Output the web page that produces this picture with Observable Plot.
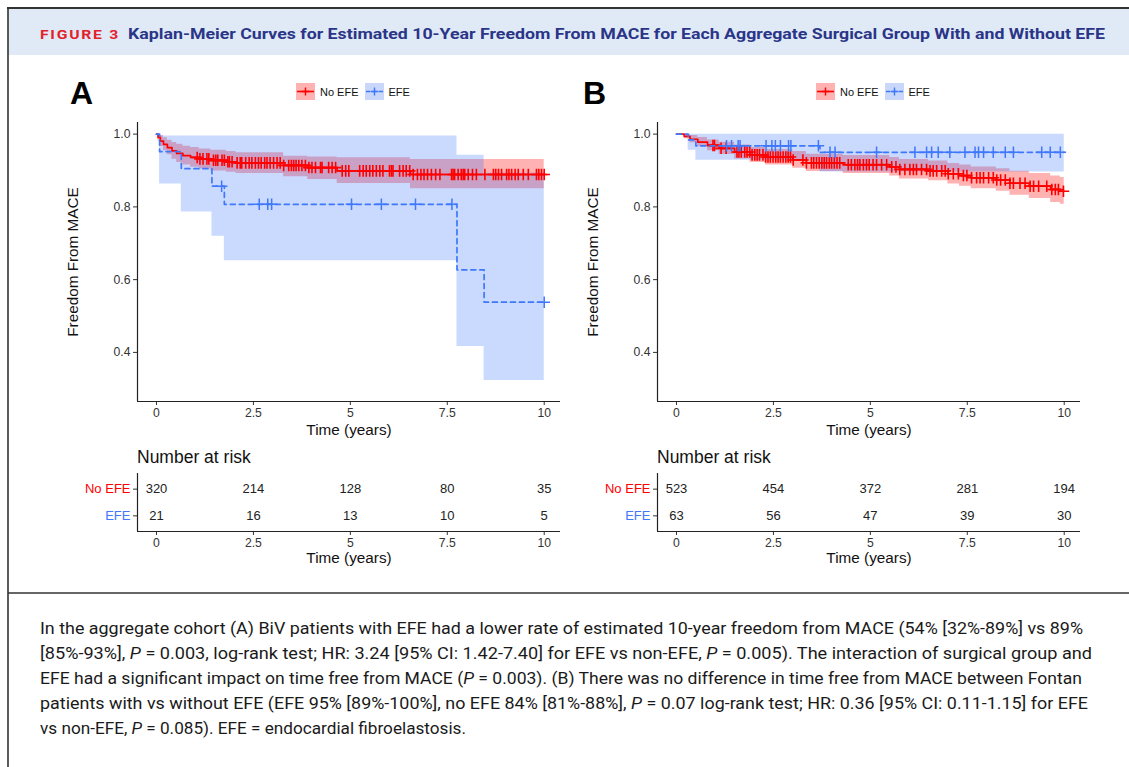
<!DOCTYPE html>
<html><head><meta charset="utf-8">
<script src="https://cdn.jsdelivr.net/npm/d3@7"></script>
<script src="https://cdn.jsdelivr.net/npm/@observablehq/plot@0.6"></script>
<style>
body{margin:0;background:#fff}
#root{position:relative;width:1129px;height:767px;overflow:hidden;font-family:"Liberation Sans",Arial,sans-serif;color:#222}
.abs{position:absolute}
</style>
</head><body><div id="root"></div>
<script>
// ---------------- DATA ----------------
const groups = ["No EFE", "EFE"];
const xTicks = [0, 2.5, 5, 7.5, 10];
const xTickLabels = ["0", "2.5", "5", "7.5", "10"];
const yTicks = [0.4, 0.6, 0.8, 1.0];

// Panel A (aggregate cohort, BiV) — No EFE
const aNoTime  = [0, 0.04, 0.1, 0.18, 0.28, 0.4, 0.52, 0.68, 0.88, 1.1, 1.4, 1.8, 2.05, 3.28, 3.9, 4.66, 6.55, 10];
const aNoSurv  = [1, 0.991, 0.981, 0.972, 0.963, 0.954, 0.947, 0.941, 0.936, 0.932, 0.928, 0.924, 0.921, 0.914, 0.908, 0.899, 0.889, 0.889];
const aNoLower = [1, 0.981, 0.966, 0.954, 0.943, 0.931, 0.922, 0.915, 0.909, 0.904, 0.899, 0.895, 0.892, 0.883, 0.875, 0.864, 0.85, 0.85];
const aNoUpper = [1, 1.0, 0.996, 0.99, 0.983, 0.977, 0.972, 0.967, 0.963, 0.959, 0.956, 0.952, 0.949, 0.939, 0.937, 0.935, 0.93, 0.93];
const aNoCensor = [1.05,1.12,1.2,1.3,1.35,1.47,1.53,1.58,1.69,1.75,1.84,1.88,1.95,2.08,2.16,2.2,2.3,2.39,2.46,2.55,2.63,2.7,2.79,2.85,2.93,3.02,3.11,3.19,3.28,3.41,3.48,3.54,3.6,3.67,3.75,3.84,3.93,4.01,4.1,4.23,4.27,4.44,4.53,4.62,4.79,4.88,4.96,5.24,5.33,5.41,5.5,5.58,5.67,5.76,5.84,6.01,6.06,6.1,6.27,6.36,6.44,6.53,6.62,6.73,6.82,6.9,6.99,7.09,7.2,7.31,7.61,7.65,7.69,7.78,7.86,7.91,7.95,8.04,8.15,8.25,8.47,8.69,8.75,8.82,8.9,9.03,9.09,9.16,9.25,9.33,9.46,9.59,9.8,9.86,9.93,10.0];
// Panel A — EFE
const aEfeTime  = [0, 0.08, 0.64, 1.43, 1.75, 7.75, 8.45, 10];
const aEfeSurv  = [1, 0.952, 0.905, 0.857, 0.807, 0.627, 0.538, 0.538];
const aEfeLower = [1, 0.863, 0.786, 0.719, 0.652, 0.416, 0.323, 0.323];
const aEfeUpper = [1, 0.995, 0.995, 0.995, 0.995, 0.942, 0.893, 0.893];
const aEfeCensor = [1.68, 2.65, 2.87, 2.97, 5.03, 5.8, 6.68, 7.62, 10.0];
const aRiskNoEfe = [320, 214, 128, 80, 35];
const aRiskEfe   = [21, 16, 13, 10, 5];

// Panel B (Fontan) — No EFE
const bNoTime  = [0, 0.2, 0.35, 0.55, 0.8, 1.1, 1.5, 1.9, 2.3, 3.0, 3.35, 4.3, 5.5, 5.75, 6.5, 7.0, 7.3, 7.6, 8.25, 8.6, 9.1, 9.65, 9.9, 10];
const bNoSurv  = [1, 0.994, 0.986, 0.978, 0.969, 0.961, 0.951, 0.943, 0.937, 0.929, 0.921, 0.916, 0.91, 0.903, 0.899, 0.891, 0.886, 0.88, 0.874, 0.865, 0.857, 0.848, 0.843, 0.843];
const bNoLower = [1, 0.987, 0.976, 0.965, 0.954, 0.944, 0.932, 0.922, 0.915, 0.906, 0.897, 0.892, 0.885, 0.877, 0.872, 0.863, 0.857, 0.85, 0.843, 0.832, 0.823, 0.812, 0.807, 0.807];
const bNoUpper = [1, 1, 0.996, 0.991, 0.984, 0.978, 0.97, 0.963, 0.958, 0.952, 0.945, 0.941, 0.936, 0.93, 0.926, 0.919, 0.915, 0.91, 0.905, 0.898, 0.892, 0.885, 0.881, 0.881];
const bNoCensor = [0.94,0.98,1.15,1.28,1.56,1.61,1.67,1.76,1.82,1.89,1.95,2.02,2.08,2.14,2.23,2.3,2.36,2.42,2.49,2.56,2.62,2.68,2.75,2.82,2.88,2.94,3.01,3.26,3.35,3.48,3.54,3.61,3.68,3.75,3.81,3.87,3.94,4.0,4.07,4.14,4.21,4.43,4.51,4.6,4.67,4.73,4.82,4.9,4.97,5.07,5.16,5.29,5.42,5.55,5.66,5.76,5.89,6.02,6.11,6.19,6.32,6.45,6.54,6.62,6.71,6.84,6.93,7.01,7.14,7.27,7.4,7.49,7.61,7.74,7.83,7.92,8.05,8.17,8.26,8.36,8.48,8.6,8.69,8.86,8.99,9.12,9.21,9.34,9.55,9.68,9.77,9.85,9.98];
// Panel B — EFE
const bEfeTime  = [0, 0.3, 0.5, 3.7, 10];
const bEfeSurv  = [1, 0.984, 0.968, 0.95, 0.95];
const bEfeLower = [1, 0.956, 0.928, 0.896, 0.896];
const bEfeUpper = [1, 1, 1, 1, 1];
const bEfeCensor = [1.29,1.42,1.59,1.64,2.31,2.46,2.55,2.68,2.89,2.95,3.66,3.96,4.09,5.16,6.15,6.45,6.58,6.75,7.05,7.44,7.7,7.79,7.92,8.17,8.48,8.69,9.42,9.64,9.9];
const bRiskNoEfe = [523, 454, 372, 281, 194];
const bRiskEfe   = [63, 56, 47, 39, 30];

const headerLabel = "FIGURE 3";
const headerTitle = "Kaplan-Meier Curves for Estimated 10-Year Freedom From MACE for Each Aggregate Surgical Group With and Without EFE";
const captionLines = [
  "In the aggregate cohort (A) BiV patients with EFE had a lower rate of estimated 10-year freedom from MACE (54% [32%-89%] vs 89%",
  "[85%-93%], *P* = 0.003, log-rank test; HR: 3.24 [95% CI: 1.42-7.40] for EFE vs non-EFE, *P* = 0.005). The interaction of surgical group and",
  "EFE had a significant impact on time free from MACE (*P* = 0.003). (B) There was no difference in time free from MACE between Fontan",
  "patients with vs without EFE (EFE 95% [89%-100%], no EFE 84% [81%-88%], *P* = 0.07 log-rank test; HR: 0.36 [95% CI: 0.11-1.15] for EFE",
  "vs non-EFE, *P* = 0.085). EFE = endocardial fibroelastosis."
];

// ---------------- STYLE ----------------
const RED = "#FF0000", BLUE = "#3F78FA";
const RED_FILL = "#FFB2B2", BLUE_FILL = "#C9D7FA";
const xDomain = [-0.49, 10.42];
const yDomain = [0.265, 1.032];
const FONT = "'Liberation Sans', Arial, sans-serif";
const root = document.getElementById("root");

// ---------------- BACKGROUND / HEADER / CAPTION ----------------
const NS = "http://www.w3.org/2000/svg";
function el(tag, attrs, parent) {
  const e = document.createElementNS(NS, tag);
  for (const k in attrs) e.setAttribute(k, attrs[k]);
  if (parent) parent.appendChild(e);
  return e;
}
const bg = el("svg", {width: 1129, height: 767, class: "abs", style: "left:0;top:0"});
root.appendChild(bg);
el("rect", {x: 8, y: 9, width: 1121, height: 46, fill: "#DFEAF6"}, bg);
el("line", {x1: 7, x2: 1129, y1: 8, y2: 8, stroke: "#333", "stroke-width": 2}, bg);
el("line", {x1: 8, x2: 8, y1: 7, y2: 767, stroke: "#333", "stroke-width": 1.6}, bg);
el("line", {x1: 8, x2: 1129, y1: 593, y2: 593, stroke: "#333", "stroke-width": 1.6}, bg);
const condensed = "Roboto,'Liberation Sans',sans-serif";
const h1 = el("text", {x: 40, y: 38.5, fill: "#E3212B", "font-family": condensed, "font-weight": "bold", "font-size": 13.5, "letter-spacing": 1.5, textLength: 80, lengthAdjust: "spacingAndGlyphs"}, bg);
h1.textContent = headerLabel;
const h2 = el("text", {x: 128, y: 38.5, fill: "#2B3588", "font-family": condensed, "font-weight": "bold", "font-size": 15.5, textLength: 977, lengthAdjust: "spacingAndGlyphs"}, bg);
h2.textContent = headerTitle;

const capEnds = [1083, 1092, 1082, 1088, 466];
const capBase = [634, 659, 684, 709, 734];
captionLines.forEach((line, i) => {
  const t = el("text", {x: 40, y: capBase[i], fill: "#1a1a1a", "font-family": condensed, "font-size": 16.5, textLength: capEnds[i] - 40, lengthAdjust: "spacingAndGlyphs"}, bg);
  line.split("*").forEach((seg, j) => {
    const ts = el("tspan", j % 2 ? {"font-style": "italic"} : {}, t);
    ts.textContent = seg;
  });
});

// ---------------- HELPERS ----------------
function km(time, surv, lower, upper) {
  return time.map((t, i) => ({t, s: surv[i], lo: lower[i], hi: upper[i]}));
}
function survAt(time, surv, t) {
  const i = d3.bisectRight(time, t) - 1;
  return surv[Math.max(0, i)];
}
function censors(times, time, surv) {
  return times.map(t => ({t, s: survAt(time, surv, t)}));
}

function swatch(fill, stroke, dashed) {
  return `<svg width="19" height="17" style="display:block"><rect width="19" height="17" fill="${fill}"/>` +
    `<line x1="1" x2="18" y1="8.5" y2="8.5" stroke="${stroke}" stroke-width="1.6" ${dashed ? 'stroke-dasharray="4,2.5"' : ""}/>` +
    `<path d="M9.5 4.5v8M5.5 8.5h8" stroke="${stroke}" stroke-width="1.4"/></svg>`;
}

function panel(cfg) {
  const L = cfg.left;
  const red = km(cfg.noTime, cfg.noSurv, cfg.noLower, cfg.noUpper);
  const blue = km(cfg.efeTime, cfg.efeSurv, cfg.efeLower, cfg.efeUpper);
  const redC = censors(cfg.noCensor, cfg.noTime, cfg.noSurv);
  const blueC = censors(cfg.efeCensor, cfg.efeTime, cfg.efeSurv);

  // panel letter
  const letter = document.createElement("div");
  letter.className = "abs";
  letter.style.cssText = `left:${L + cfg.letterDx}px;top:77px;font:bold 32px/1 ${FONT};color:#000`;
  letter.textContent = cfg.letter;
  root.appendChild(letter);

  // legend
  const leg = document.createElement("div");
  leg.className = "abs";
  leg.style.cssText = `left:${L + 236}px;top:83px;display:flex;align-items:center;font:11px ${FONT};color:#111`;
  leg.innerHTML = `${swatch(RED_FILL, RED, false)}<span style="margin:0 6px 0 5px">${groups[0]}</span>` +
                  `${swatch(BLUE_FILL, BLUE, true)}<span style="margin-left:5px">${groups[1]}</span>`;
  root.appendChild(leg);

  const main = Plot.plot({
    width: 510, height: 331,
    marginLeft: 77, marginRight: 10, marginTop: 12, marginBottom: 40,
    x: {domain: xDomain},
    y: {domain: yDomain},
    style: {fontFamily: FONT, fontSize: "12px", color: "#333", background: "transparent", overflow: "visible"},
    marks: [
      Plot.areaY(red, {x: "t", y1: "lo", y2: "hi", curve: "step-after", fill: RED, fillOpacity: 0.3}),
      Plot.areaY(blue, {x: "t", y1: "lo", y2: "hi", curve: "step-after", fill: BLUE, fillOpacity: 0.28}),
      Plot.line(red, {x: "t", y: "s", curve: "step-after", stroke: RED, strokeWidth: 1.7}),
      Plot.dot(redC, {x: "t", y: "s", symbol: "plus", r: 3.8, stroke: RED, strokeWidth: 1.6}),
      Plot.line(blue, {x: "t", y: "s", curve: "step-after", stroke: BLUE, strokeWidth: 1.7, strokeDasharray: "5,4"}),
      Plot.dot(blueC, {x: "t", y: "s", symbol: "plus", r: 3.8, stroke: BLUE, strokeWidth: 1.5}),
      Plot.axisX({ticks: xTicks, tickFormat: (d, i) => xTickLabels[i], tickSize: 4, tickPadding: 3, label: null, fontSize: 12.2}),
      Plot.axisY({ticks: yTicks, tickFormat: d3.format(".1f"), tickSize: 4, tickPadding: 3, label: null, fontSize: 12.2}),
      Plot.ruleX([xDomain[0]], {stroke: "#222", strokeWidth: 1.2}),
      Plot.ruleY([yDomain[0]], {stroke: "#222", strokeWidth: 1.2}),
      Plot.text(["Time (years)"], {frameAnchor: "bottom", lineAnchor: "middle", textAnchor: "middle", dy: 29, fontSize: 15.3, fill: "#111"}),
      Plot.text(["Freedom From MACE"], {frameAnchor: "left", lineAnchor: "middle", textAnchor: "middle", dx: -64, rotate: -90, fontSize: 15.3, fill: "#111"})
    ]
  });
  main.classList.add("abs");
  main.style.left = L + "px";
  main.style.top = "110px";
  root.appendChild(main);

  // number at risk title
  const nr = document.createElement("div");
  nr.className = "abs";
  nr.style.cssText = `left:${L + 77}px;top:447px;font:17.5px/1.2 ${FONT};color:#111`;
  nr.textContent = "Number at risk";
  root.appendChild(nr);

  const risk = [];
  xTicks.forEach((t, i) => {
    risk.push({t, row: 0, n: cfg.riskNo[i]});
    risk.push({t, row: 1, n: cfg.riskEfe[i]});
  });
  const pad = 0.586;
  const rDomain = [1 + pad, -pad];
  const table = Plot.plot({
    width: 510, height: 100,
    marginLeft: 77, marginRight: 10, marginTop: 3, marginBottom: 39,
    x: {domain: xDomain},
    y: {domain: rDomain},
    style: {fontFamily: FONT, fontSize: "12px", color: "#333", background: "transparent", overflow: "visible"},
    marks: [
      Plot.text(risk, {x: "t", y: "row", text: d => String(d.n), fontSize: 13, fill: "#222"}),
      Plot.axisX({ticks: xTicks, tickFormat: (d, i) => xTickLabels[i], tickSize: 4, tickPadding: 3, label: null, fontSize: 12.2}),
      Plot.axisY({ticks: [0, 1], tickFormat: () => "", tickSize: 4, label: null}),
      Plot.text([groups[0]], {y: () => 0, frameAnchor: "left", dx: -7, textAnchor: "end", fill: RED, fontSize: 13}),
      Plot.text([groups[1]], {y: () => 1, frameAnchor: "left", dx: -7, textAnchor: "end", fill: BLUE, fontSize: 13}),
      Plot.ruleX([xDomain[0]], {stroke: "#222", strokeWidth: 1.2}),
      Plot.ruleY([rDomain[0]], {stroke: "#222", strokeWidth: 1.2}),
      Plot.text(["Time (years)"], {frameAnchor: "bottom", lineAnchor: "middle", textAnchor: "middle", dy: 27, fontSize: 15.3, fill: "#111"})
    ]
  });
  table.classList.add("abs");
  table.style.left = L + "px";
  table.style.top = "470px";
  root.appendChild(table);
}

panel({
  left: 60, letter: "A", letterDx: 10,
  noTime: aNoTime, noSurv: aNoSurv, noLower: aNoLower, noUpper: aNoUpper, noCensor: aNoCensor,
  efeTime: aEfeTime, efeSurv: aEfeSurv, efeLower: aEfeLower, efeUpper: aEfeUpper, efeCensor: aEfeCensor,
  riskNo: aRiskNoEfe, riskEfe: aRiskEfe
});
panel({
  left: 580, letter: "B", letterDx: 3,
  noTime: bNoTime, noSurv: bNoSurv, noLower: bNoLower, noUpper: bNoUpper, noCensor: bNoCensor,
  efeTime: bEfeTime, efeSurv: bEfeSurv, efeLower: bEfeLower, efeUpper: bEfeUpper, efeCensor: bEfeCensor,
  riskNo: bRiskNoEfe, riskEfe: bRiskEfe
});
</script>
</body></html>
